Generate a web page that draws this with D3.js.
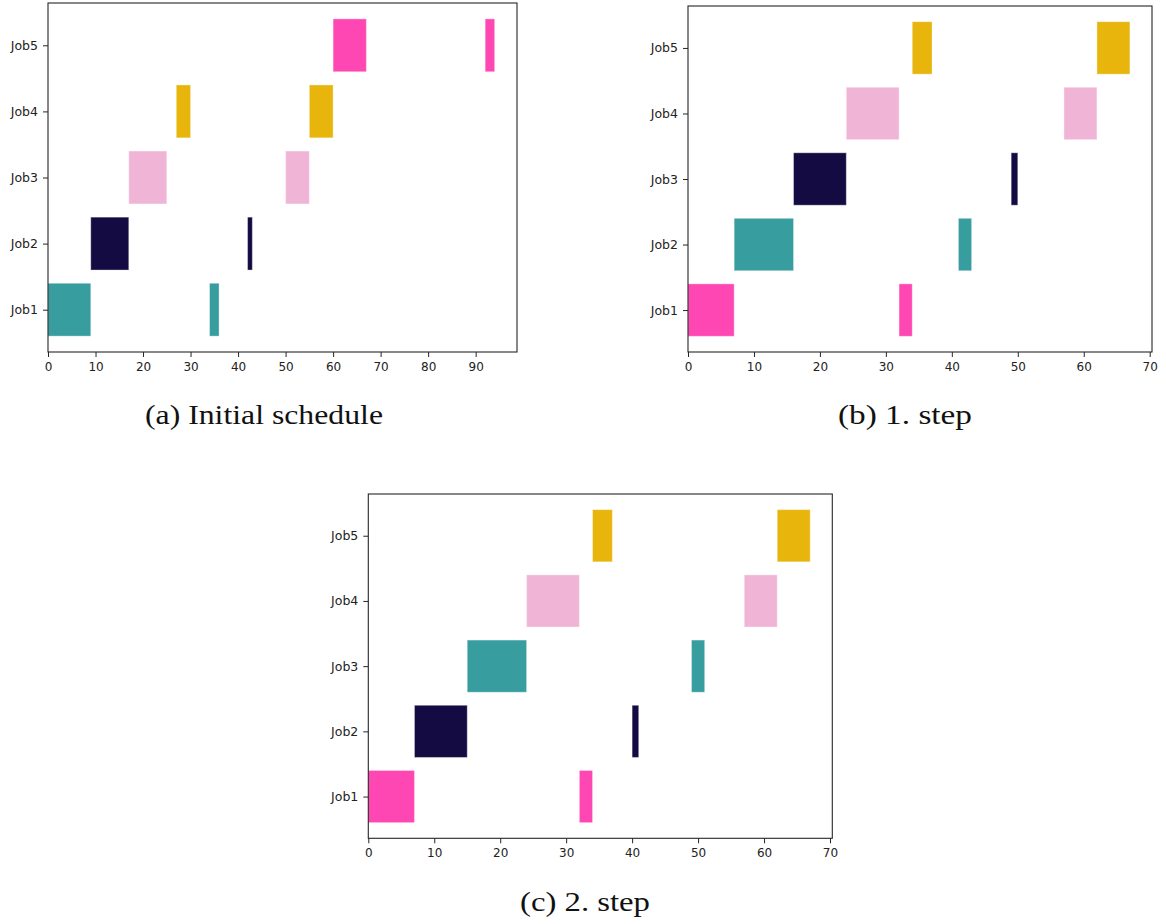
<!DOCTYPE html>
<html>
<head>
<meta charset="utf-8">
<script src="https://cdn.jsdelivr.net/npm/d3@7"></script>
<style>
  html, body { margin: 0; padding: 0; background: #fff; }
  svg { display: block; }
  .tick text { font-family: "DejaVu Sans", sans-serif; font-size: 12px; fill: #222; }
  .caption { font-family: "Liberation Serif", "DejaVu Serif", serif; font-size: 27px; fill: #111; }
</style>
</head>
<body>
<script>
// ---------- data ----------
const jobs = ["Job1", "Job2", "Job3", "Job4", "Job5"];
const palette = ["#379d9f", "#140b42", "#f0b5d6", "#e8b50c", "#ff47b4"];

// (a) Initial schedule
const aStarts = [[0, 34], [9, 42], [17, 50], [27, 55], [60, 92]];
const aDurations = [[9, 2], [8, 1], [8, 5], [3, 5], [7, 2]];
const aColorIdx = [0, 1, 2, 3, 4];
const aTicks = [0, 10, 20, 30, 40, 50, 60, 70, 80, 90];

// (b) 1. step
const bStarts = [[0, 32], [7, 41], [16, 49], [24, 57], [34, 62]];
const bDurations = [[7, 2], [9, 2], [8, 1], [8, 5], [3, 5]];
const bColorIdx = [4, 0, 1, 2, 3];
const bTicks = [0, 10, 20, 30, 40, 50, 60, 70];

// (c) 2. step
const cStarts = [[0, 32], [7, 40], [15, 49], [24, 57], [34, 62]];
const cDurations = [[7, 2], [8, 1], [9, 2], [8, 5], [3, 5]];
const cColorIdx = [4, 1, 0, 2, 3];
const cTicks = [0, 10, 20, 30, 40, 50, 60, 70];

const captions = ["(a) Initial schedule", "(b) 1. step", "(c) 2. step"];

// ---------- drawing ----------
const W = 1166, H = 924;
const svg = d3.select("body").append("svg").attr("width", W).attr("height", H);

function panel(box, starts, durations, colorIdx, ticks, caption, cap) {
  const g = svg.append("g");
  let xmax = 0;
  starts.forEach((s, i) => s.forEach((v, k) => { xmax = Math.max(xmax, v + durations[i][k]); }));
  const x = d3.scaleLinear().domain([0, xmax * 1.05]).range([box.l, box.r]);
  const barH = 0.8;
  const ylo = -barH / 2, yhi = jobs.length - 1 + barH / 2;
  const pad = (yhi - ylo) * 0.05;
  const y = d3.scaleLinear().domain([ylo - pad, yhi + pad]).range([box.b, box.t]);

  const bars = [];
  starts.forEach((s, i) => s.forEach((v, k) => bars.push({ job: i, start: v, dur: durations[i][k], c: palette[colorIdx[i]] })));

  g.selectAll("rect.bar").data(bars).enter().append("rect")
    .attr("class", "bar")
    .attr("x", d => x(d.start))
    .attr("width", d => x(d.start + d.dur) - x(d.start))
    .attr("y", d => y(d.job + barH / 2))
    .attr("height", d => y(d.job - barH / 2) - y(d.job + barH / 2))
    .attr("fill", d => d.c)
    .attr("stroke", "#ffffff").attr("stroke-opacity", 0.35).attr("stroke-width", 1);

  // frame
  g.append("rect").attr("x", box.l).attr("y", box.t)
    .attr("width", box.r - box.l).attr("height", box.b - box.t)
    .attr("fill", "none").attr("stroke", "#262626").attr("stroke-width", 1.1);

  const xa = g.append("g").attr("transform", `translate(0,${box.b})`)
    .call(d3.axisBottom(x).tickValues(ticks).tickSize(5).tickPadding(5).tickFormat(d3.format("d")));
  xa.select(".domain").remove();
  xa.selectAll(".tick line").attr("stroke", "#262626");

  const ya = g.append("g").attr("transform", `translate(${box.l},0)`)
    .call(d3.axisLeft(y).tickValues(jobs.map((_, i) => i)).tickSize(5).tickPadding(5).tickFormat(i => jobs[i]));
  ya.select(".domain").remove();
  ya.selectAll(".tick line").attr("stroke", "#262626");
  ya.selectAll(".tick text").style("font-size", "12.5px");

  svg.append("text").attr("class", "caption")
    .attr("x", cap.x).attr("y", cap.y)
    .attr("text-anchor", "middle")
    .attr("textLength", cap.w).attr("lengthAdjust", "spacingAndGlyphs")
    .text(caption);
}

panel({ l: 48, r: 517, t: 3, b: 352 }, aStarts, aDurations, aColorIdx, aTicks, captions[0], { x: 264, y: 424, w: 238 });
panel({ l: 688, r: 1152, t: 6, b: 352 }, bStarts, bDurations, bColorIdx, bTicks, captions[1], { x: 905, y: 424, w: 134 });
panel({ l: 368.3, r: 832.3, t: 494, b: 838.3 }, cStarts, cDurations, cColorIdx, cTicks, captions[2], { x: 585, y: 911, w: 130 });
</script>
</body>
</html>
